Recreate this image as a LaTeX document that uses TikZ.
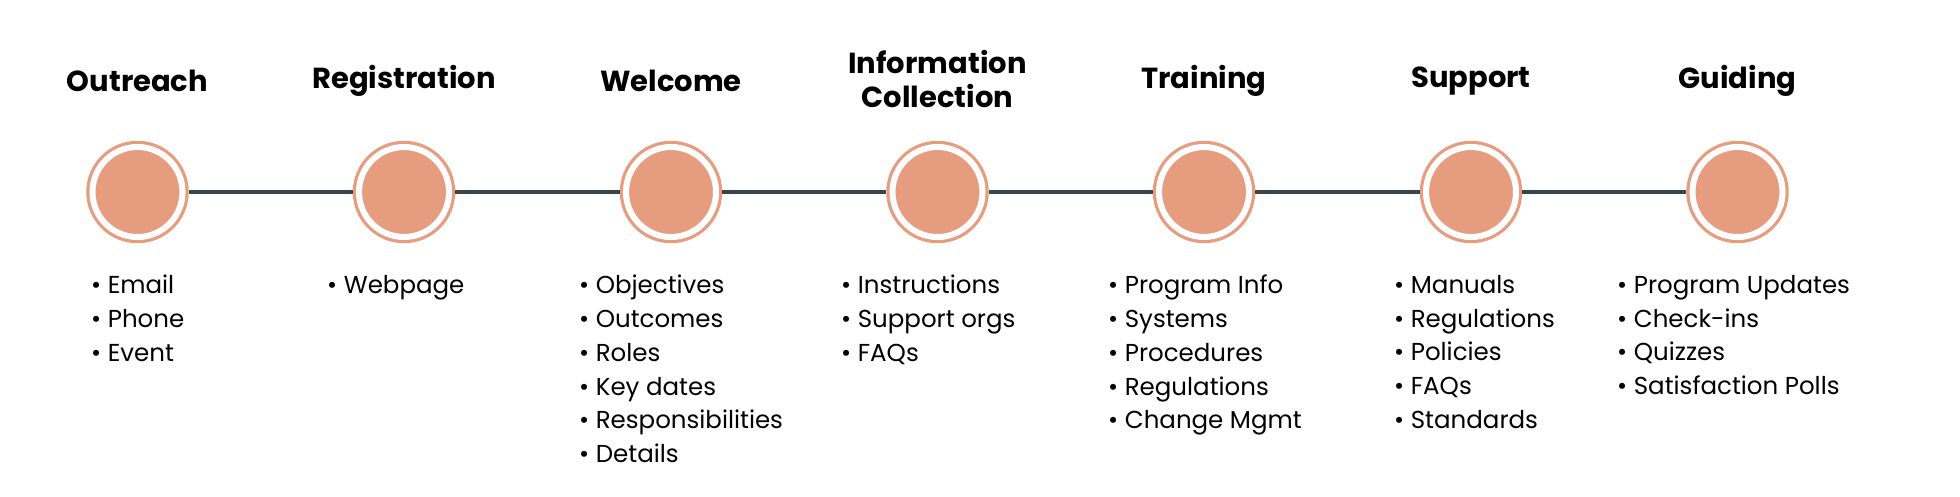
\documentclass[tikz,border=0pt]{standalone}
\usepackage{fontspec}
\setmainfont{Poppins}
\definecolor{peach}{HTML}{E69D7F}
\definecolor{linec}{HTML}{3D434A}
\begin{document}
\begin{tikzpicture}[x=1pt,y=-1pt,
  ttl/.style={font=\fontsize{29}{34}\selectfont\bfseries,align=center,anchor=center},
  lst/.style={font=\fontsize{24.5}{33.75}\selectfont,align=left,anchor=north west,inner sep=0pt},
  dot/.style={circle,fill=peach,draw=white,line width=6pt,minimum size=90pt,inner sep=0pt},
  ring/.style={circle,draw=peach,line width=3.5pt,minimum size=99pt,inner sep=0pt}]
\useasboundingbox (0,0) rectangle (1960,496);
\foreach \i/\x in {1/137.5,2/404,3/671,4/937.5,5/1204,6/1471,7/1737.5}{
  \node[ring] (r\i) at (\x,192) {};
}
\foreach \a/\b in {1/2,2/3,3/4,4/5,5/6,6/7}{
  \draw[linec,line width=4pt] (r\a.east) -- (r\b.west);
}
\foreach \i in {1,...,7}{ \node[dot] (c\i) at (r\i) {}; }
\node[ttl] (t1) at (137.5,81) {Outreach};
\node[ttl] (t2) at (404,81) {Registration};
\node[ttl] (t3) at (671,81) {Welcome};
\node[ttl] (t4) at (937.5,79) {Information\\Collection};
\node[ttl] (t5) at (1204,81) {Training};
\node[ttl] (t6) at (1471,81) {Support};
\node[ttl] (t7) at (1737.5,81) {Guiding};
\node[lst] (l1) at (91,275) {• Email\\• Phone\\• Event};
\node[lst] (l2) at (327,275) {• Webpage};
\node[lst] (l3) at (579,275) {• Objectives\\• Outcomes\\• Roles\\• Key dates\\• Responsibilities\\• Details};
\node[lst] (l4) at (841,275) {• Instructions\\• Support orgs\\• FAQs};
\node[lst] (l5) at (1108,275) {• Program Info\\• Systems\\• Procedures\\• Regulations\\• Change Mgmt};
\node[lst] (l6) at (1394,275) {• Manuals\\• Regulations\\• Policies\\• FAQs\\• Standards};
\node[lst] (l7) at (1617,275) {• Program Updates\\• Check-ins\\• Quizzes\\• Satisfaction Polls};
\end{tikzpicture}
\end{document}
